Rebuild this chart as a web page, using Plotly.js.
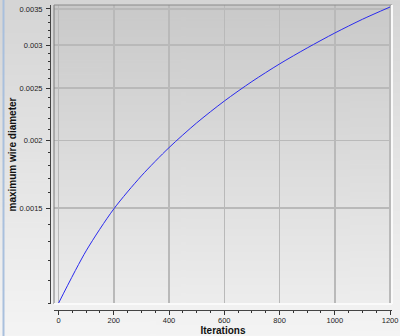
<!DOCTYPE html>
<html>
<head>
<meta charset="utf-8">
<script src="https://cdn.plot.ly/plotly-3.0.1.min.js"></script>
<style>html,body{margin:0;padding:0;background:#eee;}#chart{width:400px;height:336px;}</style>
</head>
<body>
<div id="chart"></div>
<script>
// ---- data ----
const iterations = [0, 100, 200, 300, 400, 500, 600, 700, 800, 900, 1000, 1100, 1200];
const maxWireDiameter = [0.00100, 0.001250, 0.001494, 0.00172, 0.001940, 0.002155, 0.002365, 0.00257, 0.00277, 0.002965, 0.00316, 0.00335, 0.00353];

const xTickVals = [0, 200, 400, 600, 800, 1000, 1200];
const xMinorVals = [50, 100, 150, 250, 300, 350, 450, 500, 550, 650, 700, 750, 850, 900, 950, 1050, 1100, 1150];
const yTickVals = [0.0015, 0.002, 0.0025, 0.003, 0.0035];
const yTickText = ['0.0015', '0.002', '0.0025', '0.003', '0.0035'];
const yMinorVals = [0.0010, 0.0011, 0.0012, 0.0013, 0.0014, 0.0016, 0.0017, 0.0018, 0.0019, 0.0021, 0.0022, 0.0023, 0.0024, 0.0026, 0.0027, 0.0028, 0.0029, 0.0031, 0.0032, 0.0033, 0.0034];

function grad(c1, c2) {
  const cv = document.createElement('canvas');
  cv.width = 4; cv.height = 256;
  const g = cv.getContext('2d');
  const lg = g.createLinearGradient(0, 0, 0, 256);
  lg.addColorStop(0, c1); lg.addColorStop(1, c2);
  g.fillStyle = lg; g.fillRect(0, 0, 4, 256);
  return cv.toDataURL('image/png');
}

const W = 400, H = 336, ML = 50, MR = 8, MT = 5, MB = 26;
const PW = W - ML - MR, PH = H - MT - MB;

const trace = {
  x: iterations, y: maxWireDiameter, type: 'scatter', mode: 'lines',
  line: {color: '#2a2aee', width: 1, shape: 'spline', smoothing: 0.8}, hoverinfo: 'skip'
};

const font = {family: 'Liberation Sans, Arial, sans-serif', size: 7.5, color: '#222'};
const titleFont = {family: 'Liberation Sans, Arial, sans-serif', size: 10, color: '#111', weight: 'bold'};

const layout = {
  width: W, height: H,
  margin: {l: ML, r: MR, t: MT, b: MB, pad: 0},
  paper_bgcolor: '#e8e8e8', plot_bgcolor: 'rgba(0,0,0,0)',
  showlegend: false,
  font: font,
  xaxis: {
    domain: [4 / PW, 1], anchor: 'free', position: 0,
    range: [-16.3, 1207], tickmode: 'array', tickvals: xTickVals,
    ticks: 'outside', ticklen: 4, tickcolor: '#333', tickwidth: 1,
    showline: true, linecolor: '#444', linewidth: 1,
    showgrid: true, gridcolor: '#b9b9b9', gridwidth: 1.5, zeroline: false,
    tickfont: font, ticklabelstandoff: -1,
    minor: {tickmode: 'array', tickvals: xMinorVals, ticks: 'outside', ticklen: 2, tickcolor: '#333', showgrid: false},
    title: {text: 'Iterations', font: titleFont, standoff: 5}
  },
  yaxis: {
    domain: [6 / PH, 1], anchor: 'free', position: 0,
    type: 'log', range: [Math.log10(0.000997), Math.log10(0.00356)],
    tickmode: 'array', tickvals: yTickVals, ticktext: yTickText,
    ticks: 'outside', ticklen: 4, tickcolor: '#333', tickwidth: 1,
    showline: true, linecolor: '#444', linewidth: 1,
    showgrid: true, gridcolor: '#b9b9b9', gridwidth: 1.5, zeroline: false,
    tickfont: font, ticklabelstandoff: 2,
    minor: {tickmode: 'array', tickvals: yMinorVals, ticks: 'outside', ticklen: 2, tickcolor: '#333', showgrid: false},
    title: {text: 'maximum wire diameter', font: titleFont, standoff: 0}
  },
  images: [
    {source: grad('#d5d5d5', '#f4f4f4'), xref: 'paper', yref: 'paper',
     x: -ML / PW, y: 1 + MT / PH, sizex: W / PW, sizey: H / PH,
     xanchor: 'left', yanchor: 'top', sizing: 'stretch', layer: 'below'},
    {source: grad('#c9c9c9', '#ededed'), xref: 'paper', yref: 'paper',
     x: 4 / PW, y: 1, sizex: 1 - 4 / PW, sizey: 1 - 6 / PH,
     xanchor: 'left', yanchor: 'top', sizing: 'stretch', layer: 'below'}
  ],
  shapes: [
    {type: 'line', xref: 'paper', yref: 'paper', x0: (3.5 - ML) / PW, x1: (3.5 - ML) / PW, y0: -MB / PH, y1: 1 + MT / PH,
     line: {color: '#a9c0dd', width: 2}},
    {type: 'line', xref: 'paper', yref: 'paper', x0: 4 / PW, x1: 4 / PW, y0: 6 / PH, y1: 1, line: {color: '#7a7a7a', width: 1}},
    {type: 'line', xref: 'paper', yref: 'paper', x0: 4 / PW, x1: 1, y0: 1, y1: 1, line: {color: '#8a8a8a', width: 1}},
    {type: 'line', xref: 'paper', yref: 'paper', x0: 1, x1: 1, y0: 6 / PH, y1: 1, line: {color: '#fafafa', width: 2}},
    {type: 'line', xref: 'paper', yref: 'paper', x0: 4 / PW, x1: 1, y0: 6 / PH, y1: 6 / PH, line: {color: '#fafafa', width: 2}}
  ]
};

Plotly.newPlot('chart', [trace], layout, {staticPlot: true, displayModeBar: false});
</script>
</body>
</html>
